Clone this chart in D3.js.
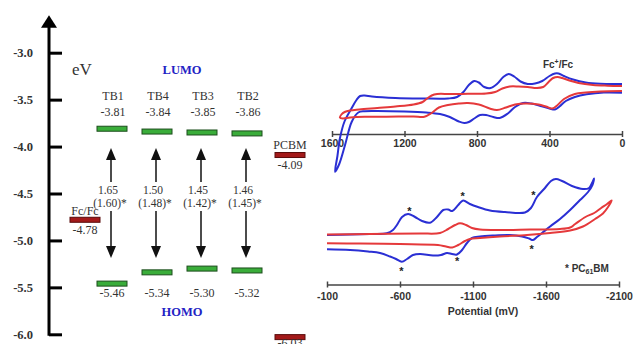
<!DOCTYPE html>
<html><head><meta charset="utf-8">
<script src="https://cdn.jsdelivr.net/npm/d3@7"></script>
<style>body{margin:0;background:#fff}svg{display:block}</style>
</head><body><svg id="c" width="634" height="344"></svg>
<script>
// ---------- energy-level diagram data ----------
const compounds = ["TB1", "TB4", "TB3", "TB2"];
const lumo = [-3.81, -3.84, -3.85, -3.86];
const homo = [-5.46, -5.34, -5.30, -5.32];
const gapCV = ["1.65", "1.50", "1.45", "1.46"];
const gapOpt = ["(1.60)*", "(1.48)*", "(1.42)*", "(1.45)*"];
const fcLevel = -4.78;
const pcbmLumo = -4.09;
const pcbmHomo = -6.03;
const energyTicks = [-3.0, -3.5, -4.0, -4.5, -5.0, -5.5, -6.0];

// ---------- cyclic voltammograms: [potential mV, current a.u.] ----------
const topTicks = [1600, 1200, 800, 400, 0];
const botTicks = [-100, -600, -1100, -1600, -2100];

const topBlue = [
 [0,41.3],[100,41.5],[195,39.7],[260,37],[310,33],[345,27.5],[370,24.5],[400,25.5],[450,28],[500,30.5],[546,31],[590,27],[630,20.5],[675,16],[710,17],[750,19],[783,19],[815,15.5],[845,12],[870,11],[900,12.5],[950,17],[1004,20],[1080,21.5],[1200,22.5],[1350,23],[1420,22.8],[1455,21.5],[1491,12.3],[1528,-11],[1560,-30],[1583,-37.7],
 [1570,-22],[1556,-4],[1530,13],[1491,26],[1465,34],[1445,38],[1420,38.5],[1380,37.5],[1250,36],[1100,35.5],[960,35.5],[910,37],[875,42],[845,49],[815,53],[790,51.5],[760,47],[725,46],[690,50],[655,57],[625,60],[595,57.5],[560,52.5],[520,50],[480,50.5],[440,53],[400,58],[370,60.5],[350,60.5],[320,58],[270,54.5],[200,51.5],[120,50.2],[0,50]
];
const topRed = [
 [0,43],[120,42.5],[200,41.5],[260,40],[320,35],[355,29],[385,25.5],[420,27.5],[460,29.5],[530,30.5],[590,29.5],[640,26.5],[690,24],[730,25.5],[790,29.5],[850,31],[900,30.5],[960,29],[1010,26.5],[1050,21],[1090,17.3],[1150,17.5],[1300,17.3],[1420,17.3],[1500,16.5],[1540,15.5],[1556,16.3],
 [1548,19.5],[1530,22],[1500,23.5],[1450,24.5],[1350,26],[1250,27.5],[1150,29.5],[1100,32],[1075,35.5],[1050,38.5],[1020,40],[950,40],[850,40.2],[750,40.5],[700,42],[660,45.5],[620,47.5],[570,47.5],[520,47],[470,46],[435,47],[405,52],[380,56],[355,57],[330,56],[290,53.5],[240,51],[160,49],[80,48.3],[0,48]
];
const botBlue = [
 [-100,5],[-258,5.5],[-395,6],[-509,6.7],[-552,10],[-579,15],[-614,23],[-655,26],[-703,23],[-751,19],[-805,17.3],[-853,23],[-896,30],[-930,30.5],[-958,29],[-999,35],[-1032,39.5],[-1079,36],[-1134,33],[-1216,29.5],[-1319,28],[-1456,27.5],[-1497,32],[-1538,43],[-1593,52],[-1634,59],[-1668,61],[-1710,59],[-1778,54],[-1853,51],[-1895,52],[-1915,57],[-1929,61.5],
 [-1918,55],[-1888,48],[-1833,40],[-1765,30],[-1696,21],[-1628,13.5],[-1573,7],[-1538,3],[-1511,0],[-1484,1.5],[-1436,3.5],[-1353,5],[-1251,4.5],[-1148,3.5],[-1093,2],[-1059,-3],[-1025,-10],[-990,-14.5],[-956,-14],[-922,-13],[-881,-15],[-826,-15.5],[-737,-14],[-689,-15],[-648,-19],[-612,-21.7],[-573,-19],[-532,-16.5],[-463,-13],[-381,-11.5],[-258,-10],[-100,-9.3]
];
const botRed = [
 [-100,5.5],[-395,6],[-737,6.5],[-874,7],[-930,11],[-978,15],[-1011,16.7],[-1052,15],[-1093,12],[-1148,10.5],[-1284,10],[-1490,10.5],[-1696,11],[-1765,12.5],[-1800,16],[-1870,23],[-1930,27],[-1978,32],[-2018,36],[-2050,39.5],
 [-2025,33],[-1990,26.5],[-1936,21],[-1853,13.5],[-1765,9.5],[-1628,7],[-1470,5],[-1284,3.5],[-1148,2],[-1079,1],[-1045,-1],[-999,-5],[-958,-7.5],[-915,-6.5],[-860,-5],[-600,-4],[-326,-3.5],[-100,-3.3]
];
const starPot = [-664, -1029, -1513, -609, -992, -1502];
const starCur = [30.7, 45.7, 46.7, -29.3, -19.3, -6.7];

// ---------- drawing ----------
const svg = d3.select("#c");
const serif = "Liberation Serif";
const sans = "Liberation Sans";
const blueTxt = "#2323c4";

// energy axis
const yE = d3.scaleLinear().domain([-6, -3]).range([334.3, 52.7]);
const axX = 49;
const gA = svg.append("g").attr("transform", `translate(${axX},0)`);
gA.call(d3.axisLeft(yE).tickValues(energyTicks).tickSizeInner(-13).tickSizeOuter(0)
  .tickPadding(16).tickFormat(d => d.toFixed(1)));
gA.select(".domain").remove();
gA.selectAll(".tick line").attr("stroke", "#000").attr("stroke-width", 3);
gA.selectAll(".tick text").attr("font-family", serif).attr("font-size", 12.5)
  .attr("font-weight", "bold").attr("fill", "#333");
gA.append("line").attr("x1", 0).attr("x2", 0)
  .attr("y1", yE(-6) + 1.5).attr("y2", yE(-2.72))
  .attr("stroke", "#000").attr("stroke-width", 3);
const tipY = yE(-2.6), baseY = yE(-2.735);
gA.append("path").attr("d", `M-8,${baseY}L8,${baseY}L0,${tipY}Z`).attr("fill", "#000");

svg.append("text").attr("x", 72).attr("y", 75).attr("font-family", serif)
  .attr("font-size", 17).attr("fill", "#333").text("eV");

const xc = d3.scalePoint().domain(compounds).range([112, 247]);

svg.append("text").attr("x", 182).attr("y", 74).attr("text-anchor", "middle")
  .attr("font-family", serif).attr("font-weight", "bold").attr("font-size", 12.5)
  .attr("fill", blueTxt).text("LUMO");
svg.append("text").attr("x", 182).attr("y", 316).attr("text-anchor", "middle")
  .attr("font-family", serif).attr("font-weight", "bold").attr("font-size", 12.5)
  .attr("fill", blueTxt).text("HOMO");

const txt = (x, y, s, size = 12) => svg.append("text").attr("x", x).attr("y", y)
  .attr("text-anchor", "middle").attr("font-family", serif).attr("font-size", size)
  .attr("fill", "#333").text(s);

compounds.forEach((c, i) => {
  const x = xc(c);
  txt(x + 1, 100, c);
  txt(x + 1, 116, lumo[i].toFixed(2));
  txt(x, 297, homo[i].toFixed(2));
  txt(x - 4, 193.5, gapCV[i], 11.5);
  txt(x - 2, 207, gapOpt[i], 11.5);
  // bars
  [lumo[i], homo[i]].forEach(v => {
    svg.append("rect").attr("x", x - 15).attr("y", yE(v) - 2.5).attr("width", 30).attr("height", 5)
      .attr("fill", "#3aad3a").attr("stroke", "#1d4d1d").attr("stroke-width", 1);
  });
  // arrows
  const ax = x - 1;
  svg.append("line").attr("x1", ax).attr("x2", ax).attr("y1", 158).attr("y2", 182)
    .attr("stroke", "#111").attr("stroke-width", 1.5);
  svg.append("path").attr("d", `M${ax - 5},${160}L${ax + 5},${160}L${ax},${148}Z`).attr("fill", "#111");
  svg.append("line").attr("x1", ax).attr("x2", ax).attr("y1", 211).attr("y2", 248)
    .attr("stroke", "#111").attr("stroke-width", 1.5);
  svg.append("path").attr("d", `M${ax - 5},${246}L${ax + 5},${246}L${ax},${258}Z`).attr("fill", "#111");
});

// reference levels
const redBar = (cx, v) => svg.append("rect").attr("x", cx - 15).attr("y", yE(v) - 2.5)
  .attr("width", 30).attr("height", 5).attr("fill", "#a31a1a").attr("stroke", "#5a0c0c").attr("stroke-width", 1);
redBar(85, fcLevel);
txt(85, yE(fcLevel) - 5, "Fc/Fc", 12);
txt(85, yE(fcLevel) + 14, fcLevel.toFixed(2));
redBar(290, pcbmLumo);
txt(290, yE(pcbmLumo) - 6, "PCBM");
txt(290, yE(pcbmLumo) + 14, pcbmLumo.toFixed(2));
redBar(290, pcbmHomo);
txt(290, yE(pcbmHomo) + 10, pcbmHomo.toFixed(2));

// ---------- CV plots ----------
const blue = "#2a2fd4", red = "#e5393b";
function axisStyle(g) {
  g.select(".domain").attr("stroke", "#444").attr("stroke-width", 1.5);
  g.selectAll(".tick line").attr("y1", -3).attr("y2", 3).attr("stroke", "#444").attr("stroke-width", 1.5);
  g.selectAll(".tick text").attr("font-family", sans).attr("font-weight", "bold")
    .attr("font-size", 10.5).attr("fill", "#333");
}
// top
const xT = d3.scaleLinear().domain([1600, 0]).range([332, 622]);
const cT = d3.scaleLinear().domain([0, 100]).range([134, 34]);
const gT = svg.append("g").attr("transform", "translate(0,134)");
gT.call(d3.axisBottom(xT).tickValues(topTicks).tickSizeInner(3).tickSizeOuter(0)
  .tickPadding(3).tickFormat(d => String(d)));
axisStyle(gT);
const lineT = d3.line().x(d => xT(d[0])).y(d => cT(d[1])).curve(d3.curveCatmullRom.alpha(0.5));
svg.append("path").datum(topBlue).attr("d", lineT).attr("fill", "none").attr("stroke", blue).attr("stroke-width", 2);
svg.append("path").datum(topRed).attr("d", lineT).attr("fill", "none").attr("stroke", red).attr("stroke-width", 2);
const fcT = svg.append("text").attr("x", 558).attr("y", 68).attr("text-anchor", "middle")
  .attr("font-family", sans).attr("font-weight", "bold").attr("font-size", 10).attr("fill", "#333");
fcT.append("tspan").text("Fc");
fcT.append("tspan").attr("font-size", 7).attr("dy", -4).text("+");
fcT.append("tspan").attr("dy", 4).text("/Fc");

// bottom
const xB = d3.scaleLinear().domain([-100, -2100]).range([327, 619]);
const cB = d3.scaleLinear().domain([0, 100]).range([240, 140]);
const gB = svg.append("g").attr("transform", "translate(0,284.5)");
gB.call(d3.axisBottom(xB).tickValues(botTicks).tickSizeInner(3).tickSizeOuter(0)
  .tickPadding(5).tickFormat(d => String(d)));
axisStyle(gB);
const lineB = d3.line().x(d => xB(d[0])).y(d => cB(d[1])).curve(d3.curveCatmullRom.alpha(0.5));
svg.append("path").datum(botBlue).attr("d", lineB).attr("fill", "none").attr("stroke", blue).attr("stroke-width", 2);
svg.append("path").datum(botRed).attr("d", lineB).attr("fill", "none").attr("stroke", red).attr("stroke-width", 2);
starPot.forEach((p, i) => {
  svg.append("text").attr("x", xB(p)).attr("y", cB(starCur[i])).attr("dy", "0.56em")
    .attr("text-anchor", "middle").attr("font-family", sans).attr("font-weight", "bold")
    .attr("font-size", 11).attr("fill", "#222").text("*");
});
svg.append("text").attr("x", 483).attr("y", 315).attr("text-anchor", "middle")
  .attr("font-family", sans).attr("font-weight", "bold").attr("font-size", 10.5)
  .attr("fill", "#333").text("Potential (mV)");
const pc = svg.append("text").attr("x", 565).attr("y", 272)
  .attr("font-family", sans).attr("font-weight", "bold").attr("font-size", 10).attr("fill", "#333");
pc.append("tspan").text("* PC");
pc.append("tspan").attr("font-size", 7).attr("dy", 2).text("61");
pc.append("tspan").attr("dy", -2).text("BM");
</script></body></html>
